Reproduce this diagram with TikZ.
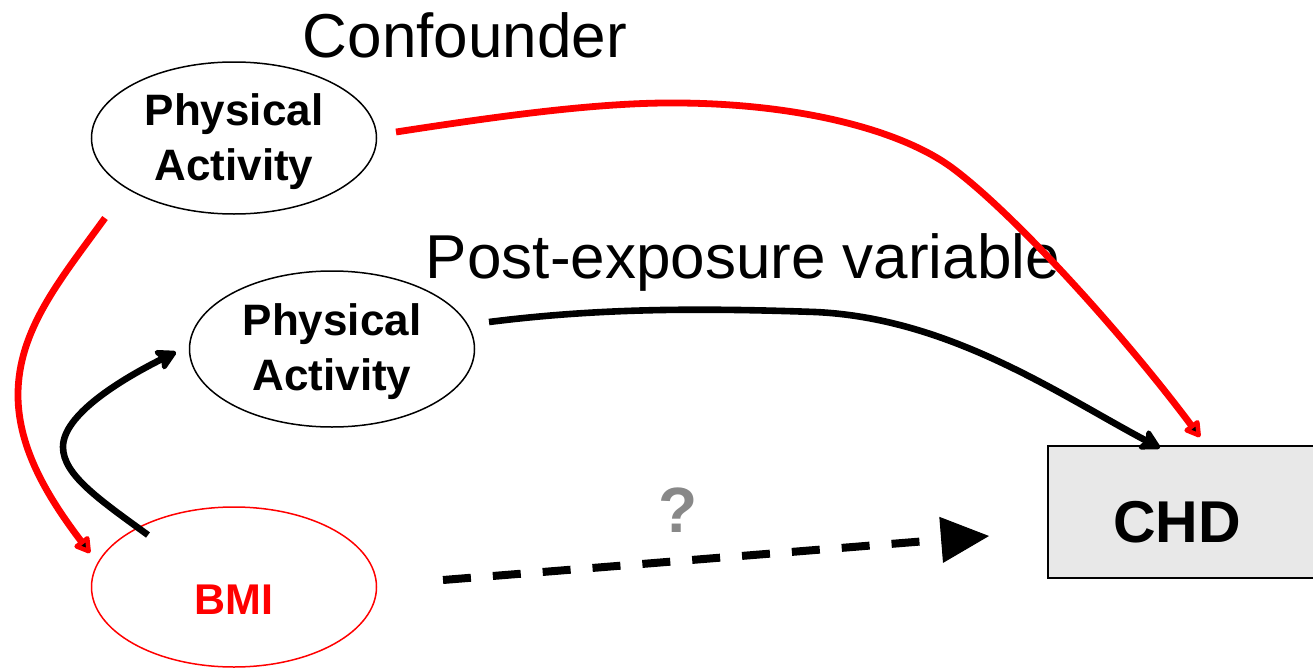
\documentclass[tikz,border=0pt]{standalone}
\usepackage{fontspec}
\setmainfont{Liberation Sans}
\usetikzlibrary{arrows.meta,shapes.geometric}
\definecolor{boxgray}{HTML}{E8E8E8}
\definecolor{qgray}{HTML}{888888}
\begin{document}
\begin{tikzpicture}[x=0.5pt,y=-0.5pt,
  varnode/.style={ellipse,draw=black,line width=0.75pt,minimum width=142.5pt,minimum height=76pt,
    inner sep=0pt,align=center,font=\bfseries\fontsize{22}{27.5}\selectfont},
  caption/.style={font=\fontsize{31}{36}\selectfont,inner sep=0pt},
  redlink/.style={red,line width=3.4pt,-{Triangle[length=9pt,width=10pt,fill=black,round]}},
  blacklink/.style={black,line width=3.3pt,-{Stealth[length=12pt,width=13pt,inset=2.5pt,round]}},
  doubtlink/.style={black,line width=4pt,dash pattern=on 14pt off 11pt,
    -{Triangle[length=24pt,width=23pt,line width=0.5pt]}}]
\useasboundingbox (0,0) rectangle (1313,669);
\clip (0,0) rectangle (1313,669);

% variables
\node[varnode] (pa1) at (234,138) {\rule{0pt}{20pt}Physical\\Activity};
\node[varnode,minimum height=78pt] (pa2) at (332,349) {\rule{0pt}{19pt}Physical\\Activity};
\node[varnode,draw=red,minimum height=80pt,text=red,text height=27.5pt,text depth=0pt,
  font=\bfseries\fontsize{21.5}{26}\selectfont] (bmi) at (234,587) {BMI};
\node[draw=black,line width=0.75pt,fill=boxgray,minimum width=138pt,minimum height=66pt,
  inner sep=0pt] (chd) at (1186,512) {};
\node[font=\bfseries\fontsize{29.5}{34}\selectfont,inner sep=0pt] (chdlabel) at (1177,522) {CHD};

% captions
\node[caption] (conf) at (465,35) {Confounder};
\node[caption] (post) at (743,262) {Post-exposure variable};
\node[font=\bfseries\fontsize{32}{36}\selectfont,text=qgray,inner sep=0pt] (q) at (678,510) {?};

% connector ends
\coordinate (c1s) at (396,132);
\coordinate (c1a) at (680,103);
\coordinate (c1b) at (951,167);
\coordinate (c1e) at (1200,437);
\coordinate (c2s) at (105,218);
\coordinate (c2m) at (18,395);
\coordinate (c2e) at (90,553);
\coordinate (c3s) at (148,535);
\coordinate (c3m) at (63,447);
\coordinate (c3e) at (176,352);
\coordinate (c4s) at (489,322);
\coordinate (c4m) at (815,312);
\coordinate (c4e) at (1160,448);
\coordinate (c5s) at (443,580);
\coordinate (c5e) at (989,536);

% paths
\draw[redlink] (c1s) .. controls (500,116) and (600,102) .. (c1a)
  .. controls (800,104) and (900,130) .. (c1b)
  .. controls (1010,210) and (1120,330) .. (c1e);
\draw[redlink] (c2s) .. controls (60,280) and (18,330) .. (c2m)
  .. controls (18,450) and (50,500) .. (c2e);
\draw[blacklink] (c3s) .. controls (100,500) and (63,475) .. (c3m)
  .. controls (63,415) and (120,380) .. (c3e);
\draw[blacklink] (c4s) .. controls (600,308) and (700,308) .. (c4m)
  .. controls (950,318) and (1060,395) .. (c4e);
\draw[doubtlink] (c5s) -- (c5e);
\end{tikzpicture}
\end{document}
